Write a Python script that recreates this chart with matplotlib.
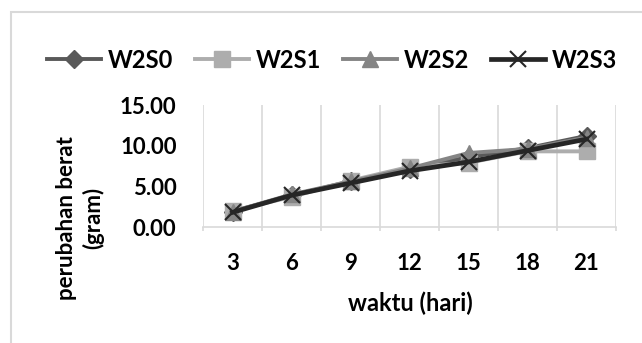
import matplotlib
matplotlib.use("Agg")
import matplotlib.pyplot as plt
from matplotlib.patches import Rectangle
import numpy as np

days = ["3", "6", "9", "12", "15", "18", "21"]
W2S0 = [1.9, 3.9, 5.6, 7.1, 8.6, 9.7, 11.2]
W2S1 = [2.0, 3.7, 5.7, 7.4, 7.9, 9.3, 9.3]
W2S2 = [1.9, 4.0, 5.6, 7.2, 9.1, 9.6, 11.0]
W2S3 = [1.8, 3.9, 5.4, 6.9, 8.0, 9.4, 10.8]
yticks = [0, 5, 10, 15]

plt.rcParams['font.family'] = ['Lato', 'DejaVu Sans']
plt.rcParams['font.weight'] = 'bold'

W, H = 642, 343
fig = plt.figure(figsize=(W / 100, H / 100), dpi=100)
fig.patches.append(Rectangle((11 / W, -0.01), 1.0, (H - 12) / H + 0.01,
                             transform=fig.transFigure, fill=False,
                             edgecolor='#d9d9d9', linewidth=1.5))

ax = fig.add_axes([203 / W, (H - 227) / H, (616 - 203) / W, (227 - 105) / H])
x = np.arange(1, len(days) + 1)

series = [
    ("W2S0", W2S0, '#595959', 'D', 9, 2.8),
    ("W2S1", W2S1, '#adadad', 's', 11, 2.8),
    ("W2S2", W2S2, '#858585', '^', 11, 2.8),
    ("W2S3", W2S3, '#262626', 'x', 12, 3.4),
]
for name, vals, col, mk, ms, lw in series:
    ax.plot(x, vals, color=col, marker=mk, markersize=ms, linewidth=lw,
            markeredgewidth=1.5 if mk == 'x' else 1.0, markeredgecolor=col,
            label=name)

ax.set_xlim(0.5, len(days) + 0.5)
ax.set_ylim(0, 15)
ax.set_xticks(x)
ax.set_xticklabels(days)
ax.set_xticks(np.arange(0.5, len(days) + 1, 1.0), minor=True)
ax.set_yticks(yticks)
ax.set_yticklabels([f"{v:.2f}" for v in yticks])
ax.grid(which='minor', axis='x', color='#d9d9d9', linewidth=1.2)
ax.set_axisbelow(True)
for s in ['top', 'right', 'left']:
    ax.spines[s].set_visible(False)
ax.spines['bottom'].set_color('#d9d9d9')
ax.spines['bottom'].set_linewidth(1.2)
ax.tick_params(axis='x', which='major', length=0, pad=19, labelsize=16)
ax.tick_params(axis='x', which='minor', length=3, color='#d9d9d9', width=1.2)
ax.tick_params(axis='y', length=0, pad=19, labelsize=16)

fig.text(410 / W, 1 - 303 / H, "waktu (hari)", ha='center', va='center',
         fontsize=17, fontweight='bold')
fig.text(80 / W, 1 - 218 / H, "perubahan berat\n(gram)", ha='center', va='center',
         rotation=90, fontsize=16, fontweight='bold', linespacing=1.3)

leg = fig.legend(loc='center', bbox_to_anchor=(332 / W, 1 - 60 / H), ncol=4,
                 frameon=False, fontsize=17, handlelength=2.3, columnspacing=0.9,
                 handletextpad=0.3, borderpad=0, borderaxespad=0)

fig.savefig("out.png", dpi=100)
